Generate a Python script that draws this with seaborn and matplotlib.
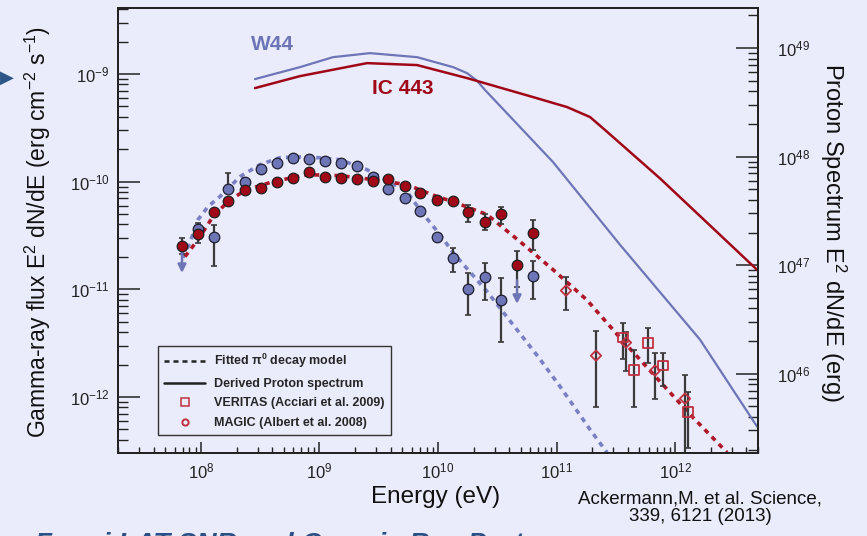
import numpy as np
import pandas as pd
import seaborn as sns
import matplotlib.pyplot as plt
from matplotlib.ticker import LogLocator, NullFormatter
from matplotlib.lines import Line2D

# ---------------------------------------------------------------
# values, stored as log10 (E in eV)
# ---------------------------------------------------------------
fermi_log_e = [7.840, 7.975, 8.110, 8.228, 8.371, 8.506, 8.641, 8.776, 8.911, 9.046, 9.181, 9.316,
               9.451, 9.578, 9.722, 9.848, 9.992, 10.127, 10.253, 10.397, 10.532, 10.667, 10.802]

# IC 443 (Fermi LAT, filled red)
ic443_log_f = [-10.594, -10.483, -10.279, -10.176, -10.074, -10.056, -10.000, -9.963, -9.907, -9.954, -9.963, -9.972,
               -9.991, -9.972, -10.037, -10.102, -10.167, -10.176, -10.279, -10.371, -10.297, -10.771, -10.474]
ic443_lo = [-10.670, -10.566, -10.279, -10.176, -10.074, -10.056, -10.000, -9.963, -9.907, -9.954, -9.963, -9.972,
            -9.991, -9.972, -10.037, -10.102, -10.167, -10.176, -10.371, -10.446, -10.390, -10.975, -10.631]
ic443_hi = [-10.520, -10.409, -10.279, -10.176, -10.074, -10.056, -10.000, -9.963, -9.907, -9.954, -9.963, -9.972,
            -9.991, -9.972, -10.037, -10.102, -10.167, -10.176, -10.214, -10.297, -10.232, -10.641, -10.353]

# W44 (Fermi LAT, filled blue)
w44_log_e = [7.975, 8.110, 8.228, 8.371, 8.506, 8.641, 8.776, 8.911, 9.046, 9.181, 9.316,
             9.451, 9.578, 9.722, 9.848, 9.992, 10.127, 10.253, 10.397, 10.532, 10.802]
w44_log_f = [-10.436, -10.511, -10.065, -10.000, -9.879, -9.824, -9.777, -9.786, -9.805, -9.824, -9.851,
             -9.954, -10.065, -10.149, -10.269, -10.511, -10.706, -10.994, -10.882, -11.096, -10.873]
w44_lo = [-10.500, -10.780, -10.100, -10.030, -9.879, -9.824, -9.777, -9.786, -9.805, -9.824, -9.851,
          -9.954, -10.065, -10.149, -10.269, -10.511, -10.836, -11.235, -11.096, -11.486, -11.086]
w44_hi = [-10.380, -10.400, -9.920, -9.970, -9.879, -9.824, -9.777, -9.786, -9.805, -9.824, -9.851,
          -9.954, -10.065, -10.149, -10.269, -10.511, -10.613, -10.845, -10.752, -10.891, -10.734]

# W44 upper limits
w44_ul_log_e = [7.840, 10.667]
w44_ul_log_f = [-10.604, -10.891]

# VERITAS (open squares) and MAGIC (open diamonds) for IC 443
veritas_log_e = [11.561, 11.654, 11.772, 11.899, 12.110]
veritas_log_f = [-11.448, -11.746, -11.495, -11.708, -12.136]
veritas_lo = [-11.643, -12.089, -11.681, -11.894, -12.470]
veritas_hi = [-11.309, -11.560, -11.356, -11.588, -11.950]

magic_log_e = [11.080, 11.333, 11.586, 11.831, 12.084]
magic_log_f = [-11.012, -11.616, -11.495, -11.755, -12.015]
magic_lo = [-11.188, -12.089, -11.755, -12.015, -12.600]
magic_hi = [-10.882, -11.383, -11.393, -11.588, -11.792]

# fitted pi0 decay models (dashed)
w44_fit_log_e = [7.848, 7.907, 7.975, 8.059, 8.160, 8.329, 8.498, 8.667, 8.895, 9.173, 9.401, 9.511,
                 9.738, 9.865, 10.017, 10.127, 10.414, 10.844, 11.030, 11.283, 11.426]
w44_fit_log_f = [-10.706, -10.566, -10.353, -10.232, -10.139, -9.954, -9.842, -9.777, -9.768, -9.796, -9.889, -9.954,
                 -10.093, -10.288, -10.492, -10.659, -11.021, -11.625, -11.903, -12.303, -12.516]
ic443_fit_log_e = [7.865, 7.975, 8.101, 8.245, 8.388, 8.608, 8.895, 9.173, 9.451, 9.738, 9.992, 10.127,
                   10.414, 10.692, 10.970, 11.257, 11.536, 11.873, 12.152, 12.439]
ic443_fit_log_f = [-10.696, -10.539, -10.325, -10.167, -10.074, -10.000, -9.935, -9.944, -9.981, -10.028, -10.139, -10.186,
                   -10.306, -10.557, -10.817, -11.100, -11.450, -11.857, -12.191, -12.516]

# derived proton spectra (solid, right axis, erg)
w44_p_log_e = [8.456, 8.835, 9.114, 9.426, 9.823, 10.127, 10.245, 10.329, 10.397, 10.970, 11.536, 12.211, 12.692]
w44_p_log_f = [48.715, 48.825, 48.917, 48.954, 48.917, 48.825, 48.770, 48.700, 48.614, 47.951, 47.188, 46.314, 45.513]
ic443_p_log_e = [8.456, 8.835, 9.401, 9.823, 10.245, 10.802, 11.089, 11.283, 11.409, 11.873, 12.692]
ic443_p_log_f = [48.632, 48.742, 48.862, 48.844, 48.724, 48.549, 48.457, 48.365, 48.246, 47.800, 46.958]

BG = '#eaecfb'
BLUE = '#6e75b6'
RED = '#a00818'
OPEN_RED = '#c03040'
ERR = '#3a3a3a'


def to_df(log_e, log_f):
    """DataFrame in linear units from log10 lists."""
    return pd.DataFrame({'E': np.power(10.0, log_e), 'F': np.power(10.0, log_f)})


def draw_points(ax, log_e, log_f, lo, hi, face, edge, marker, size, lw):
    """Error bars + markers for one data set."""
    df = to_df(log_e, log_f)
    ylo = np.power(10.0, lo)
    yhi = np.power(10.0, hi)
    ax.errorbar(df.E, df.F, yerr=[df.F - ylo, yhi - df.F], fmt='none',
                ecolor=ERR, elinewidth=1.6, capsize=2.0, capthick=1.2, zorder=3)
    sns.scatterplot(data=df, x='E', y='F', ax=ax, marker=marker, s=size,
                    facecolor=face, edgecolor=edge, linewidth=lw, zorder=4, legend=False)


sns.set_theme(style='ticks')
plt.rcParams['font.family'] = ['Liberation Sans', 'DejaVu Sans']
plt.rcParams['mathtext.fontset'] = 'custom'
plt.rcParams['mathtext.rm'] = 'Liberation Sans'
plt.rcParams['mathtext.it'] = 'Liberation Sans:italic'
plt.rcParams['mathtext.default'] = 'regular'

fig = plt.figure(figsize=(8.67, 5.36), dpi=100, facecolor=BG)
ax = fig.add_axes([0.1361, 0.1549, 0.7382, 0.8302])
ax.set_facecolor(BG)
ax.set_xscale('log')
ax.set_yscale('log')

# fitted pi0 models
dash = (0, (1.4, 1.4))
sns.lineplot(data=to_df(w44_fit_log_e, w44_fit_log_f), x='E', y='F', ax=ax, color='#7a80c4',
             lw=2.6, linestyle=dash, sort=False, estimator=None, zorder=2)
sns.lineplot(data=to_df(ic443_fit_log_e, ic443_fit_log_f), x='E', y='F', ax=ax, color='#b01828',
             lw=2.6, linestyle=dash, sort=False, estimator=None, zorder=2)

# Fermi data
draw_points(ax, w44_log_e, w44_log_f, w44_lo, w44_hi, BLUE, '#1e1e2e', 'o', 58, 0.9)
draw_points(ax, fermi_log_e, ic443_log_f, ic443_lo, ic443_hi, RED, '#1e1e1e', 'o', 58, 0.9)

# W44 upper limits
for le, lf in zip(w44_ul_log_e, w44_ul_log_f):
    ax.annotate('', xy=(10 ** le, 10 ** (lf - 0.27)), xytext=(10 ** le, 10 ** lf),
                arrowprops=dict(arrowstyle='-|>', color=BLUE, lw=1.8, mutation_scale=12), zorder=3)

# VERITAS / MAGIC
draw_points(ax, veritas_log_e, veritas_log_f, veritas_lo, veritas_hi, 'none', OPEN_RED, 's', 50, 1.3)
draw_points(ax, magic_log_e, magic_log_f, magic_lo, magic_hi, 'none', OPEN_RED, 'D', 28, 1.3)

ax.set_xlim(10 ** 7.30, 10 ** 12.70)
ax.set_ylim(10 ** -12.52, 10 ** -8.387)

# proton spectra on the right axis
ax2 = ax.twinx()
ax2.set_yscale('log')
sns.lineplot(data=to_df(w44_p_log_e, w44_p_log_f), x='E', y='F', ax=ax2, color=BLUE,
             lw=1.6, sort=False, estimator=None)
sns.lineplot(data=to_df(ic443_p_log_e, ic443_p_log_f), x='E', y='F', ax=ax2, color=RED,
             lw=1.8, sort=False, estimator=None)
ax2.set_ylim(10 ** 45.27, 10 ** 49.37)
ax2.set_xlim(10 ** 7.30, 10 ** 12.70)

# ticks
for a in (ax, ax2):
    for s in a.spines.values():
        s.set_linewidth(1.3)
        s.set_color('#222222')
ax.set_xlabel('')
ax.set_ylabel('')
ax2.set_ylabel('')
ax.xaxis.set_major_locator(LogLocator(base=10, numticks=20))
ax.xaxis.set_minor_locator(LogLocator(base=10, subs=np.arange(2, 10), numticks=20))
ax.xaxis.set_minor_formatter(NullFormatter())
ax.yaxis.set_major_locator(LogLocator(base=10, numticks=20))
ax.yaxis.set_minor_locator(LogLocator(base=10, subs=np.arange(2, 10), numticks=20))
ax.yaxis.set_minor_formatter(NullFormatter())
ax2.yaxis.set_major_locator(LogLocator(base=10, numticks=20))
ax2.yaxis.set_minor_locator(LogLocator(base=10, subs=np.arange(2, 10), numticks=20))
ax2.yaxis.set_minor_formatter(NullFormatter())

ax.tick_params(axis='x', which='major', direction='in', length=8, width=1.1, pad=6,
               labelsize=12, top=False, colors='#222222')
ax.tick_params(axis='x', which='minor', direction='in', length=4, width=1.0, top=False, colors='#222222')
ax.tick_params(axis='y', which='major', direction='in', length=16, width=1.1, pad=6,
               labelsize=12, right=False, colors='#222222')
ax.tick_params(axis='y', which='minor', direction='in', length=7, width=1.0, right=False, colors='#222222')
ax2.tick_params(axis='y', which='major', direction='in', length=16, width=1.1, pad=14,
                labelsize=12, colors='#222222')
ax2.tick_params(axis='y', which='minor', direction='in', length=7, width=1.0, colors='#222222')

# labels
fig.text(38 / 867, 1 - 232 / 536, 'Gamma-ray flux E$^2$ dN/dE (erg cm$^{-2}$ s$^{-1}$)',
         rotation=90, ha='center', va='center', fontsize=16.5, color='#111111')
fig.text(833 / 867, 1 - 232 / 536, 'Proton Spectrum E$^2$ dN/dE (erg)',
         rotation=270, ha='center', va='center', fontsize=17, color='#111111')
fig.text(436 / 867, 1 - 497 / 536, 'Energy (eV)', ha='center', va='center', fontsize=17.5, color='#111111')
fig.text(700 / 867, 1 - 508 / 536, 'Ackermann,M. et al. Science,\n339, 6121 (2013)',
         ha='center', va='center', fontsize=13.5, color='#111111', linespacing=1.0)

ax.text(0.241, 0.919, 'W44', transform=ax.transAxes, ha='center', va='center',
        fontsize=15, fontweight='bold', color=BLUE)
ax.text(0.445, 0.820, 'IC 443', transform=ax.transAxes, ha='center', va='center',
        fontsize=15, fontweight='bold', color=RED)

# slide decorations (title below is cut by the frame edge, as on the slide)
fig.text(0.0, 1 - 78 / 536, '\u25B6', ha='left', va='center', fontsize=13,
         color='#2d5686', family='DejaVu Sans')
fig.text(35 / 867, -0.030, 'Fermi LAT SNR and Cosmic Ray Protons', ha='left', va='baseline',
         fontsize=20, fontweight='bold', fontstyle='italic', color='#2c4f85')

# legend
handles = [
    Line2D([], [], color='#222222', lw=1.8, linestyle=(0, (2, 1.6))),
    Line2D([], [], color='#222222', lw=1.8),
    Line2D([], [], color=OPEN_RED, marker='s', markerfacecolor='none', markersize=5.5, lw=0, mew=1.1),
    Line2D([], [], color=OPEN_RED, marker='o', markerfacecolor='none', markersize=4.5, lw=0, mew=1.4),
]
labels = [r'Fitted $\pi^0$ decay model', 'Derived Proton spectrum',
          'VERITAS (Acciari et al. 2009)', 'MAGIC (Albert et al. 2008)']
leg = ax.legend(handles, labels, loc='lower left', bbox_to_anchor=(0.0625, 0.04), borderaxespad=0,
                prop={'weight': 'bold', 'size': 9}, handlelength=3.3, handletextpad=0.7,
                labelspacing=0.6, borderpad=0.5, frameon=True, fancybox=False, facecolor=BG, framealpha=1)
leg.get_frame().set_edgecolor('#333333')
leg.get_frame().set_linewidth(1.0)
leg.set_zorder(10)

fig.savefig('out.png', dpi=100, facecolor=BG)
